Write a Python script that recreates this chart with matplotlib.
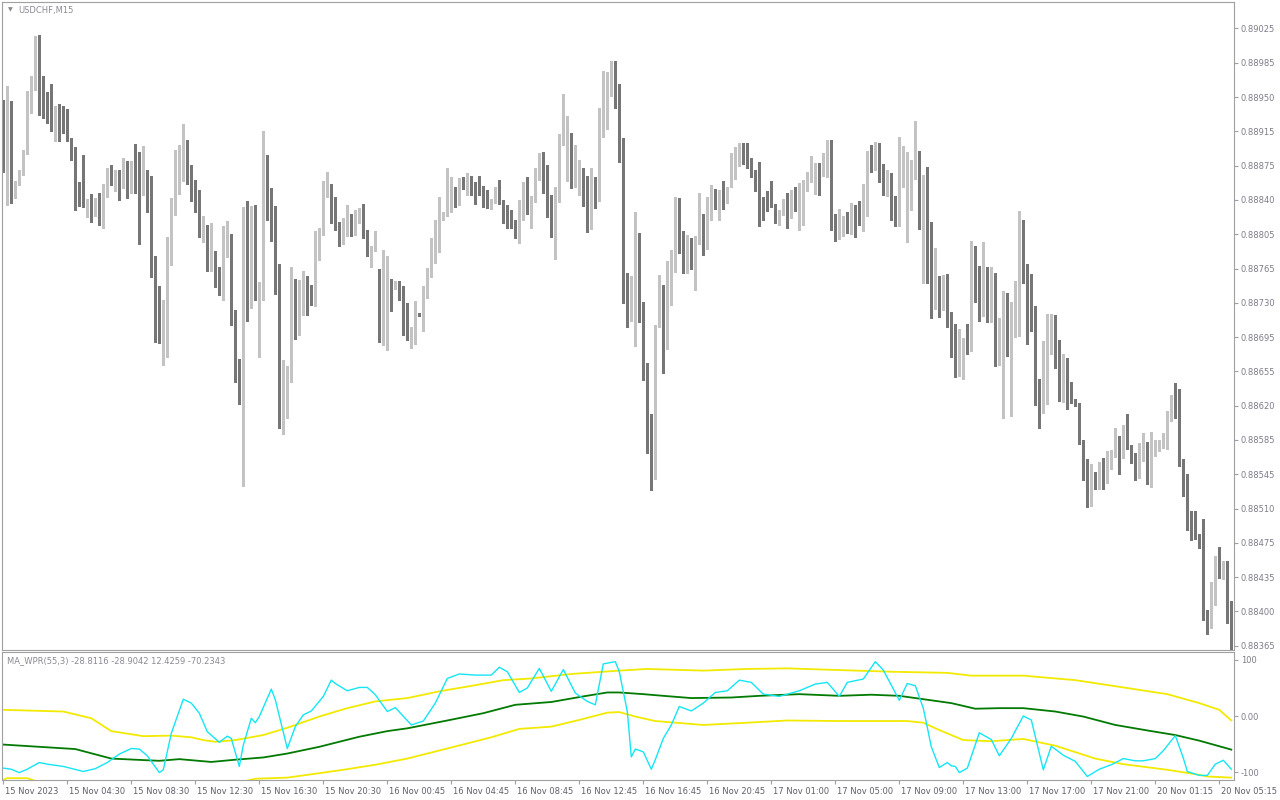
import numpy as np
import matplotlib
matplotlib.use("Agg")
import matplotlib.pyplot as plt
from matplotlib.transforms import ScaledTranslation

# ---- data -------------------------------------------------------------
symbol = "USDCHF,M15"
indicator_label = "MA_WPR(55,3) -28.8116 -28.9042 12.4259 -70.2343"

opens = [
    0.88906, 0.88887, 0.88945, 0.88852, 0.88861, 0.88872, 0.88893, 0.88952, 0.88966, 0.89014,
    0.88967, 0.88939, 0.88939, 0.88921, 0.88938, 0.88929, 0.88927, 0.88906, 0.88890, 0.88858,
    0.88861, 0.88835, 0.88837, 0.88831, 0.88847, 0.88819, 0.88858, 0.88872, 0.88865, 0.88870,
    0.88862, 0.88876, 0.88855, 0.88879, 0.88858, 0.88848, 0.88863, 0.88845, 0.88763, 0.88728,
    0.88687, 0.88692, 0.88776, 0.88831, 0.88874, 0.88899, 0.88903, 0.88865, 0.88861, 0.88852,
    0.88811, 0.88812, 0.88782, 0.88784, 0.88764, 0.88749, 0.88802, 0.88804, 0.88717, 0.88662,
    0.88657, 0.88823, 0.88737, 0.88776, 0.88741, 0.88749, 0.88873, 0.88834, 0.88812, 0.88772,
    0.88601, 0.88645, 0.88653, 0.88755, 0.88714, 0.88730, 0.88744, 0.88744, 0.88737, 0.88795,
    0.88805, 0.88848, 0.88850, 0.88830, 0.88817, 0.88796, 0.88809, 0.88817, 0.88813, 0.88817,
    0.88829, 0.88807, 0.88781, 0.88788, 0.88757, 0.88727, 0.88725, 0.88757, 0.88753, 0.88754,
    0.88750, 0.88706, 0.88694, 0.88695, 0.88720, 0.88717, 0.88749, 0.88760, 0.88785, 0.88790,
    0.88821, 0.88826, 0.88847, 0.88853, 0.88839, 0.88862, 0.88858, 0.88862, 0.88858, 0.88855,
    0.88856, 0.88841, 0.88838, 0.88843, 0.88854, 0.88842, 0.88834, 0.88829, 0.88819, 0.88803,
    0.88820, 0.88832, 0.88828, 0.88847, 0.88863, 0.88863, 0.88863, 0.88822, 0.88811, 0.88853,
    0.88901, 0.88908, 0.88909, 0.88862, 0.88863, 0.88866, 0.88863, 0.88817, 0.88864, 0.88844,
    0.88931, 0.88951, 0.88956, 0.88973, 0.88963, 0.88896, 0.88759, 0.88719, 0.88738, 0.88803,
    0.88730, 0.88665, 0.88595, 0.88578, 0.88710, 0.88725, 0.88686, 0.88749, 0.88784, 0.88813,
    0.88790, 0.88770, 0.88786, 0.88777, 0.88798, 0.88824, 0.88791, 0.88835, 0.88848, 0.88844,
    0.88854, 0.88846, 0.88856, 0.88891, 0.88894, 0.88902, 0.88889, 0.88883, 0.88868, 0.88835,
    0.88845, 0.88837, 0.88836, 0.88834, 0.88825, 0.88827, 0.88841, 0.88823, 0.88846, 0.88841,
    0.88844, 0.88855, 0.88863, 0.88876, 0.88878, 0.88870, 0.88884, 0.88899, 0.88815, 0.88803,
    0.88811, 0.88817, 0.88813, 0.88834, 0.88832, 0.88822, 0.88839, 0.88888, 0.88880, 0.88893,
    0.88870, 0.88859, 0.88870, 0.88845, 0.88822, 0.88866, 0.88866, 0.88869, 0.88878, 0.88886,
    0.88817, 0.88845, 0.88754, 0.88726, 0.88751, 0.88725, 0.88756, 0.88716, 0.88700, 0.88663,
    0.88665, 0.88681, 0.88680, 0.88791, 0.88744, 0.88727, 0.88760, 0.88715, 0.88754, 0.88669,
    0.88674, 0.88718, 0.88687, 0.88712, 0.88750, 0.88779, 0.88773, 0.88732, 0.88723, 0.88624,
    0.88616, 0.88635, 0.88685, 0.88695, 0.88692, 0.88628, 0.88673, 0.88641, 0.88629, 0.88624,
    0.88585, 0.88552, 0.88514, 0.88549, 0.88534, 0.88547, 0.88541, 0.88559, 0.88567, 0.88580,
    0.88567, 0.88599, 0.88580, 0.88567, 0.88545, 0.88576, 0.88571, 0.88541, 0.88569, 0.88577,
    0.88580, 0.88583, 0.88616, 0.88634, 0.88624, 0.88565, 0.88549, 0.88505, 0.88493, 0.88484,
    0.88479, 0.88397, 0.88394, 0.88412, 0.88460, 0.88437, 0.88450, 0.88405,
]
highs = [
    0.88948, 0.88963, 0.88947, 0.88862, 0.88874, 0.88895, 0.88958, 0.88974, 0.89017, 0.89018,
    0.88974, 0.88957, 0.88966, 0.88942, 0.88944, 0.88942, 0.88939, 0.88908, 0.88898, 0.88861,
    0.88890, 0.88843, 0.88848, 0.88844, 0.88849, 0.88859, 0.88876, 0.88879, 0.88874, 0.88874,
    0.88887, 0.88883, 0.88883, 0.88901, 0.88893, 0.88899, 0.88874, 0.88867, 0.88782, 0.88750,
    0.88735, 0.88802, 0.88844, 0.88895, 0.88900, 0.88923, 0.88906, 0.88879, 0.88863, 0.88852,
    0.88825, 0.88815, 0.88817, 0.88787, 0.88770, 0.88814, 0.88819, 0.88805, 0.88724, 0.88672,
    0.88834, 0.88840, 0.88835, 0.88836, 0.88754, 0.88915, 0.88890, 0.88854, 0.88835, 0.88773,
    0.88671, 0.88664, 0.88770, 0.88757, 0.88756, 0.88766, 0.88760, 0.88751, 0.88808, 0.88812,
    0.88862, 0.88872, 0.88859, 0.88845, 0.88818, 0.88822, 0.88836, 0.88827, 0.88831, 0.88833,
    0.88837, 0.88810, 0.88792, 0.88808, 0.88768, 0.88788, 0.88782, 0.88757, 0.88755, 0.88755,
    0.88750, 0.88731, 0.88706, 0.88734, 0.88721, 0.88750, 0.88769, 0.88801, 0.88820, 0.88845,
    0.88829, 0.88876, 0.88866, 0.88855, 0.88865, 0.88866, 0.88870, 0.88867, 0.88861, 0.88867,
    0.88857, 0.88852, 0.88843, 0.88855, 0.88863, 0.88842, 0.88836, 0.88831, 0.88820, 0.88842,
    0.88861, 0.88866, 0.88846, 0.88876, 0.88892, 0.88893, 0.88879, 0.88847, 0.88855, 0.88912,
    0.88955, 0.88931, 0.88913, 0.88900, 0.88884, 0.88876, 0.88867, 0.88876, 0.88866, 0.88940,
    0.88980, 0.88978, 0.88990, 0.88990, 0.88966, 0.88908, 0.88763, 0.88760, 0.88829, 0.88806,
    0.88733, 0.88667, 0.88613, 0.88708, 0.88761, 0.88751, 0.88776, 0.88788, 0.88845, 0.88844,
    0.88808, 0.88804, 0.88801, 0.88803, 0.88849, 0.88827, 0.88845, 0.88858, 0.88853, 0.88852,
    0.88862, 0.88855, 0.88892, 0.88898, 0.88902, 0.88902, 0.88902, 0.88886, 0.88874, 0.88882,
    0.88845, 0.88851, 0.88862, 0.88837, 0.88831, 0.88843, 0.88849, 0.88852, 0.88856, 0.88860,
    0.88863, 0.88872, 0.88889, 0.88881, 0.88881, 0.88892, 0.88906, 0.88906, 0.88827, 0.88832,
    0.88824, 0.88829, 0.88838, 0.88836, 0.88840, 0.88859, 0.88894, 0.88900, 0.88904, 0.88903,
    0.88880, 0.88874, 0.88870, 0.88846, 0.88909, 0.88899, 0.88893, 0.88884, 0.88926, 0.88894,
    0.88868, 0.88877, 0.88818, 0.88790, 0.88760, 0.88761, 0.88762, 0.88722, 0.88709, 0.88704,
    0.88694, 0.88709, 0.88798, 0.88792, 0.88771, 0.88797, 0.88770, 0.88770, 0.88763, 0.88715,
    0.88744, 0.88742, 0.88732, 0.88755, 0.88830, 0.88820, 0.88773, 0.88762, 0.88728, 0.88650,
    0.88691, 0.88720, 0.88720, 0.88719, 0.88692, 0.88677, 0.88673, 0.88647, 0.88629, 0.88624,
    0.88585, 0.88565, 0.88559, 0.88551, 0.88561, 0.88566, 0.88573, 0.88574, 0.88598, 0.88589,
    0.88601, 0.88613, 0.88580, 0.88571, 0.88582, 0.88592, 0.88583, 0.88593, 0.88585, 0.88585,
    0.88592, 0.88616, 0.88633, 0.88646, 0.88640, 0.88565, 0.88549, 0.88509, 0.88509, 0.88484,
    0.88500, 0.88403, 0.88433, 0.88461, 0.88471, 0.88456, 0.88456, 0.88413,
]
lows = [
    0.88871, 0.88836, 0.88838, 0.88844, 0.88858, 0.88868, 0.88891, 0.88935, 0.88959, 0.88933,
    0.88929, 0.88924, 0.88915, 0.88905, 0.88905, 0.88913, 0.88905, 0.88884, 0.88831, 0.88835,
    0.88834, 0.88823, 0.88818, 0.88824, 0.88815, 0.88812, 0.88845, 0.88858, 0.88851, 0.88842,
    0.88854, 0.88844, 0.88849, 0.88849, 0.88794, 0.88847, 0.88829, 0.88759, 0.88690, 0.88689,
    0.88665, 0.88674, 0.88772, 0.88826, 0.88848, 0.88862, 0.88859, 0.88840, 0.88829, 0.88802,
    0.88797, 0.88766, 0.88766, 0.88749, 0.88740, 0.88735, 0.88781, 0.88708, 0.88647, 0.88623,
    0.88536, 0.88712, 0.88726, 0.88735, 0.88674, 0.88735, 0.88820, 0.88798, 0.88741, 0.88598,
    0.88591, 0.88609, 0.88647, 0.88693, 0.88697, 0.88719, 0.88719, 0.88729, 0.88728, 0.88777,
    0.88804, 0.88845, 0.88817, 0.88810, 0.88792, 0.88794, 0.88803, 0.88803, 0.88804, 0.88817,
    0.88801, 0.88782, 0.88770, 0.88787, 0.88690, 0.88686, 0.88681, 0.88723, 0.88746, 0.88735,
    0.88697, 0.88692, 0.88683, 0.88688, 0.88718, 0.88701, 0.88737, 0.88759, 0.88774, 0.88786,
    0.88820, 0.88825, 0.88829, 0.88834, 0.88836, 0.88853, 0.88847, 0.88847, 0.88837, 0.88847,
    0.88834, 0.88833, 0.88832, 0.88838, 0.88837, 0.88817, 0.88812, 0.88812, 0.88801, 0.88796,
    0.88820, 0.88827, 0.88812, 0.88839, 0.88863, 0.88849, 0.88823, 0.88802, 0.88779, 0.88839,
    0.88900, 0.88862, 0.88854, 0.88855, 0.88847, 0.88835, 0.88807, 0.88811, 0.88833, 0.88841,
    0.88909, 0.88917, 0.88953, 0.88940, 0.88882, 0.88731, 0.88706, 0.88712, 0.88685, 0.88711,
    0.88649, 0.88571, 0.88532, 0.88543, 0.88706, 0.88657, 0.88682, 0.88729, 0.88765, 0.88785,
    0.88764, 0.88764, 0.88768, 0.88745, 0.88795, 0.88783, 0.88789, 0.88820, 0.88832, 0.88820,
    0.88832, 0.88838, 0.88856, 0.88864, 0.88878, 0.88880, 0.88876, 0.88866, 0.88851, 0.88814,
    0.88820, 0.88830, 0.88834, 0.88817, 0.88815, 0.88826, 0.88812, 0.88822, 0.88830, 0.88809,
    0.88815, 0.88851, 0.88861, 0.88848, 0.88847, 0.88867, 0.88866, 0.88810, 0.88798, 0.88800,
    0.88803, 0.88806, 0.88805, 0.88802, 0.88815, 0.88808, 0.88824, 0.88871, 0.88874, 0.88861,
    0.88847, 0.88846, 0.88820, 0.88814, 0.88814, 0.88856, 0.88797, 0.88831, 0.88864, 0.88811,
    0.88753, 0.88753, 0.88715, 0.88725, 0.88716, 0.88724, 0.88706, 0.88674, 0.88652, 0.88653,
    0.88650, 0.88677, 0.88680, 0.88732, 0.88712, 0.88718, 0.88711, 0.88711, 0.88664, 0.88665,
    0.88609, 0.88675, 0.88611, 0.88695, 0.88696, 0.88753, 0.88688, 0.88702, 0.88622, 0.88598,
    0.88614, 0.88623, 0.88677, 0.88662, 0.88627, 0.88626, 0.88618, 0.88624, 0.88621, 0.88581,
    0.88542, 0.88513, 0.88514, 0.88533, 0.88533, 0.88533, 0.88539, 0.88554, 0.88567, 0.88549,
    0.88566, 0.88575, 0.88560, 0.88542, 0.88544, 0.88562, 0.88538, 0.88535, 0.88568, 0.88573,
    0.88576, 0.88575, 0.88605, 0.88609, 0.88557, 0.88525, 0.88489, 0.88478, 0.88479, 0.88469,
    0.88392, 0.88377, 0.88384, 0.88408, 0.88437, 0.88436, 0.88389, 0.88361,
]
closes = [
    0.88882, 0.88938, 0.88851, 0.88861, 0.88874, 0.88895, 0.88954, 0.88966, 0.89013, 0.88968,
    0.88939, 0.88937, 0.88920, 0.88941, 0.88932, 0.88925, 0.88906, 0.88890, 0.88858, 0.88855,
    0.88835, 0.88838, 0.88828, 0.88843, 0.88817, 0.88857, 0.88871, 0.88864, 0.88869, 0.88863,
    0.88876, 0.88853, 0.88879, 0.88870, 0.88849, 0.88864, 0.88843, 0.88764, 0.88728, 0.88689,
    0.88692, 0.88776, 0.88833, 0.88873, 0.88899, 0.88902, 0.88861, 0.88859, 0.88848, 0.88812,
    0.88815, 0.88779, 0.88785, 0.88764, 0.88748, 0.88804, 0.88805, 0.88719, 0.88660, 0.88655,
    0.88822, 0.88738, 0.88775, 0.88742, 0.88751, 0.88874, 0.88832, 0.88813, 0.88773, 0.88599,
    0.88648, 0.88653, 0.88757, 0.88716, 0.88733, 0.88742, 0.88742, 0.88737, 0.88795, 0.88805,
    0.88852, 0.88851, 0.88828, 0.88817, 0.88799, 0.88811, 0.88816, 0.88813, 0.88817, 0.88830,
    0.88807, 0.88782, 0.88788, 0.88794, 0.88721, 0.88741, 0.88754, 0.88753, 0.88754, 0.88748,
    0.88703, 0.88693, 0.88696, 0.88719, 0.88718, 0.88749, 0.88760, 0.88786, 0.88789, 0.88822,
    0.88823, 0.88851, 0.88852, 0.88835, 0.88861, 0.88856, 0.88862, 0.88855, 0.88855, 0.88851,
    0.88839, 0.88836, 0.88842, 0.88855, 0.88837, 0.88834, 0.88827, 0.88817, 0.88803, 0.88820,
    0.88830, 0.88827, 0.88846, 0.88863, 0.88865, 0.88861, 0.88823, 0.88810, 0.88855, 0.88902,
    0.88908, 0.88910, 0.88862, 0.88863, 0.88864, 0.88861, 0.88819, 0.88866, 0.88843, 0.88931,
    0.88950, 0.88959, 0.88973, 0.88965, 0.88908, 0.88760, 0.88717, 0.88737, 0.88807, 0.88730,
    0.88665, 0.88595, 0.88577, 0.88707, 0.88724, 0.88681, 0.88749, 0.88787, 0.88812, 0.88788,
    0.88769, 0.88784, 0.88778, 0.88798, 0.88821, 0.88792, 0.88834, 0.88849, 0.88845, 0.88850,
    0.88845, 0.88855, 0.88892, 0.88896, 0.88899, 0.88888, 0.88882, 0.88868, 0.88854, 0.88834,
    0.88836, 0.88834, 0.88834, 0.88820, 0.88829, 0.88843, 0.88825, 0.88845, 0.88842, 0.88846,
    0.88858, 0.88863, 0.88878, 0.88880, 0.88868, 0.88883, 0.88900, 0.88813, 0.88802, 0.88814,
    0.88818, 0.88809, 0.88832, 0.88831, 0.88818, 0.88841, 0.88883, 0.88878, 0.88893, 0.88872,
    0.88855, 0.88867, 0.88845, 0.88824, 0.88867, 0.88868, 0.88871, 0.88877, 0.88887, 0.88815,
    0.88843, 0.88753, 0.88725, 0.88752, 0.88727, 0.88754, 0.88713, 0.88700, 0.88658, 0.88664,
    0.88683, 0.88678, 0.88794, 0.88742, 0.88725, 0.88762, 0.88715, 0.88755, 0.88668, 0.88676,
    0.88719, 0.88686, 0.88709, 0.88752, 0.88783, 0.88773, 0.88733, 0.88723, 0.88624, 0.88617,
    0.88633, 0.88687, 0.88695, 0.88690, 0.88629, 0.88674, 0.88633, 0.88627, 0.88625, 0.88585,
    0.88552, 0.88515, 0.88550, 0.88534, 0.88546, 0.88540, 0.88559, 0.88566, 0.88579, 0.88567,
    0.88601, 0.88578, 0.88565, 0.88557, 0.88576, 0.88585, 0.88539, 0.88567, 0.88579, 0.88578,
    0.88583, 0.88616, 0.88633, 0.88618, 0.88564, 0.88546, 0.88503, 0.88493, 0.88484, 0.88479,
    0.88395, 0.88394, 0.88410, 0.88459, 0.88438, 0.88451, 0.88405, 0.88361,
]

price_labels = ["0.89025", "0.88985", "0.88950", "0.88915", "0.88875", "0.88840",
                "0.88805", "0.88765", "0.88730", "0.88695", "0.88655", "0.88620",
                "0.88585", "0.88545", "0.88510", "0.88475", "0.88435", "0.88400",
                "0.88365"]
price_top, price_bottom = 0.89025, 0.88365

time_labels = ["15 Nov 2023", "15 Nov 04:30", "15 Nov 08:30", "15 Nov 12:30",
               "15 Nov 16:30", "15 Nov 20:30", "16 Nov 00:45", "16 Nov 04:45",
               "16 Nov 08:45", "16 Nov 12:45", "16 Nov 16:45", "16 Nov 20:45",
               "17 Nov 01:00", "17 Nov 05:00", "17 Nov 09:00", "17 Nov 13:00",
               "17 Nov 17:00", "17 Nov 21:00", "20 Nov 01:15", "20 Nov 05:15"]
bars_per_label = 16

# indicator: WPR line (cyan), bands (yellow) and middle average (green)
wpr_bar = [0, 2, 4, 6, 9, 11, 15, 20, 23, 26, 29, 32, 34, 36, 39, 40, 42, 45, 47, 49,
           51, 54, 56, 57, 59, 60, 62, 63, 64, 67, 68, 71, 73, 75, 77, 80, 82, 83, 86, 89,
           91, 93, 96, 98, 102, 105, 108, 111, 114, 118, 122, 124, 126, 129, 131, 134, 137,
           140, 143, 146, 148, 150, 153, 154, 156, 157, 158, 160, 162, 163, 165, 167, 169,
           172, 175, 178, 181, 184, 187, 190, 194, 199, 203, 206, 209, 211, 215, 218, 220,
           224, 226, 228, 230, 232, 234, 236, 237, 238, 239, 241, 244, 247, 249, 252, 255,
           257, 260, 262, 265, 268, 271, 274, 277, 280, 283, 285, 288, 290, 293, 295, 296,
           299, 301, 303, 305, 307]
wpr_val = [-93, -95, -101, -95, -83, -86, -90, -99, -94, -83, -68, -58, -59, -71, -101, -96,
           -31, 30, 23, 5, -28, -47, -36, -40, -90, -52, -4, -12, -1, 48, 29, -58, -19, 2, 9,
           35, 64, 58, 45, 51, 51, 38, 8, 15, -16, -9, 23, 67, 75, 73, 73, 87, 79, 42, 50,
           85, 44, 83, 41, 26, 20, 93, 97, 79, 8, -73, -59, -64, -95, -78, -40, -16, 17, 9,
           23, 42, 45, 64, 60, 39, 35, 45, 57, 60, 35, 60, 66, 97, 82, 28, 58, 54, 14, -55,
           -92, -83, -89, -90, -101, -93, -30, -42, -71, -40, 0, -7, -96, -54, -70, -81,
           -108, -95, -87, -76, -80, -80, -76, -62, -35, -75, -99, -106, -106, -86, -79, -95]

upper_bar = [0, 15, 22, 27, 35, 42, 47, 50, 53, 58, 65, 71, 79, 86, 93, 101, 109, 118, 125,
             132, 142, 152, 154, 161, 175, 186, 196, 209, 222, 236, 242, 255, 268, 280, 291,
             299, 304, 307]
upper_val = [11, 8, -4, -27, -36, -35, -38, -43, -46, -43, -34, -21, -1, 14, 26, 32, 44, 55,
             64, 67, 75, 80, 81, 84, 81, 84, 85, 82, 79, 77, 72, 72, 64, 51, 39, 23, 11, -8]

lower_bar = [0, 1, 6, 8, 20, 35, 50, 60, 63, 71, 77, 85, 93, 101, 111, 122, 129, 137, 144,
             151, 154, 158, 163, 175, 186, 196, 209, 226, 230, 234, 240, 247, 255, 263, 273,
             280, 291, 299, 301, 307]
lower_val = [-114, -111, -111, -116, -122, -126, -124, -117, -112, -110, -104, -96, -87, -76,
             -58, -38, -23, -19, -7, 6, 7, -1, -9, -16, -12, -8, -9, -9, -12, -25, -43, -45,
             -41, -53, -76, -86, -96, -105, -108, -110]

mid_bar = [0, 9, 18, 27, 39, 44, 52, 58, 65, 71, 79, 89, 96, 101, 111, 120, 128, 137, 145,
           151, 154, 160, 165, 172, 182, 189, 199, 209, 217, 224, 230, 237, 243, 249, 255,
           263, 270, 278, 287, 293, 299, 307]
mid_val = [-51, -55, -59, -76, -80, -77, -82, -78, -74, -67, -55, -37, -27, -22, -8, 5, 20,
           25, 35, 42, 42, 39, 36, 32, 33, 36, 39, 36, 38, 36, 30, 23, 13, 14, 14, 8, -1,
           -16, -27, -34, -44, -60]

# ---- style ------------------------------------------------------------
BULL = "#c3c3c3"
BEAR = "#767676"
FRAME = "#a0a0a0"
TEXT = "#7d7d8a"
FONT = "DejaVu Sans"
FS = 6.0

W, H = 1280, 800
fig = plt.figure(figsize=(W / 100, H / 100), dpi=100)
fig.patch.set_facecolor("white")
plt.rcParams["font.family"] = FONT

ax1 = fig.add_axes([2 / W, 1 - 650 / H, 1232 / W, 648 / H])
ax2 = fig.add_axes([2 / W, 1 - 779.7 / H, 1232 / W, 127.4 / H])

n = len(opens)
x = np.arange(n)
o = np.array(opens)
h = np.array(highs)
l = np.array(lows)
c = np.array(closes)
up = c >= o

# wicks then bodies
ax1.vlines(x[up], l[up], h[up], color=BULL, lw=0.75, antialiased=False)
ax1.vlines(x[~up], l[~up], h[~up], color=BEAR, lw=0.75, antialiased=False)
body_lo = np.minimum(o, c)
body_h = np.maximum(np.abs(c - o), 0.000011)
ax1.bar(x[up], body_h[up], bottom=body_lo[up], width=0.72, color=BULL,
        linewidth=0, antialiased=False)
ax1.bar(x[~up], body_h[~up], bottom=body_lo[~up], width=0.72, color=BEAR,
        linewidth=0, antialiased=False)

xlim = (-0.325, 307.675)
ax1.set_xlim(*xlim)
ax1.set_ylim(0.883604, 0.890533)

ax2.plot(lower_bar, lower_val, color="#f2ea00", lw=1.3)
ax2.plot(upper_bar, upper_val, color="#f2ea00", lw=1.3)
ax2.plot(mid_bar, mid_val, color="#007a00", lw=1.3)
ax2.plot(wpr_bar, wpr_val, color="#14e6f5", lw=1.0)
ax2.set_xlim(*xlim)
ax2.set_ylim(-113.7, 113.7)

# axes cosmetics
for ax in (ax1, ax2):
    ax.set_facecolor("white")
    for sp in ax.spines.values():
        sp.set_color(FRAME)
        sp.set_linewidth(0.8)
    ax.yaxis.tick_right()
    ax.tick_params(axis="y", direction="out", length=3, width=0.8, color=FRAME,
                   labelcolor=TEXT, labelsize=FS, pad=2)

ax1.set_xticks([])
ax1.set_yticks(np.linspace(price_top, price_bottom, len(price_labels)))
ax1.set_yticklabels(price_labels)

ax2.set_yticks([100, 0, -100])
ax2.set_yticklabels(["100", "0.00", "-100"])

ax2.set_xticks([i * bars_per_label for i in range(len(time_labels))])
ax2.set_xticklabels(time_labels, ha="left")
ax2.tick_params(axis="x", direction="out", length=3, width=0.8, color=FRAME,
                labelcolor="#5f5f6a", labelsize=FS, pad=2)
shift = ScaledTranslation(2.0 / 100, 0, fig.dpi_scale_trans)
for lbl in ax2.get_xticklabels():
    lbl.set_transform(lbl.get_transform() + shift)

# titles
fig.text(8 / W, 1 - 10 / H, "\u25bc", fontsize=4.5, color="#8a8a8a", va="center")
fig.text(18 / W, 1 - 10 / H, symbol, fontsize=FS, color="#8a8a95", va="center")
fig.text(7 / W, 1 - 661 / H, indicator_label, fontsize=FS, color="#8a8a95",
         va="center")

fig.savefig("out.png", dpi=100, facecolor="white")
